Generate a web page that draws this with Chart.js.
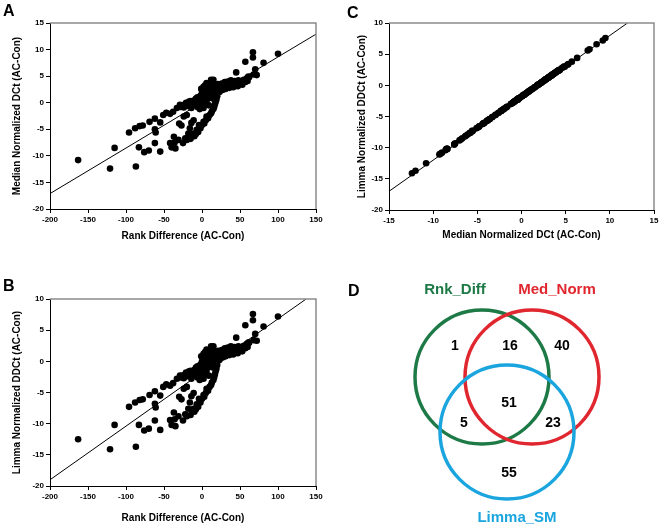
<!DOCTYPE html>
<html>
<head>
<meta charset="utf-8">
<script src="https://cdn.jsdelivr.net/npm/chart.js@4.4.1/dist/chart.umd.min.js"></script>
<style>
  body { margin: 0; background: #fff; }
  #wrap { position: relative; width: 661px; height: 531px; font-family: 'Liberation Sans', Arial, sans-serif; }
  canvas { position: absolute; }
  .panel { position: absolute; font-weight: bold; font-size: 16px; line-height: 16px; color: #000; }
</style>
</head>
<body>
<div id="wrap">
  <canvas id="chartA" width="330" height="270" style="left:0;top:0"></canvas>
  <canvas id="chartC" width="331" height="270" style="left:330px;top:0"></canvas>
  <canvas id="chartB" width="330" height="261" style="left:0;top:270px"></canvas>
  <canvas id="chartD" width="331" height="261" style="left:330px;top:270px"></canvas>
  <div class="panel" style="left:3px;top:3px">A</div>
  <div class="panel" style="left:347px;top:5px">C</div>
  <div class="panel" style="left:3px;top:278px">B</div>
  <div class="panel" style="left:348px;top:283px">D</div>
</div>
<script>
// one entry per gene: rank difference, median normalized DCt, limma normalized DDCt
const rankDiff = [
  -163, -121, -115, -96, -88, -87, -83, -82, -78, -76,
  -70, -69, -62, -62, -61, -62, -55, -55, -51, -47,
  -42, -42, -40, -38, -37, -36, -35, -33, -31, -30,
  -29, -27, -25, -24, -22, -20, -20, -18, -18, -16,
  -14, -14, -11, -11, -9, -7, -3, -3, 2, 6,
  6, 100, 67, 67, 57, 81, 45, 70, 72, 68,
  61, 59, 12, 15,
  -28, -26, -24, -22, -21, -19, -17, -16, -15, -13,
  -12, -10, -9, -8, -7, -6, -5, -4, -3, -2,
  -1, 0, 0, 1, 1, 2, 2, 3, 3, 4,
  4, 5, 5, 6, 6, 7, 8, 8, 9, 10,
  10, 11, 12, 13, 14, 15, 16, 17, 18, 19,
  20, 21, 22, 23, 24, 25, 26, 27, 28, 29,
  30, 31, 32, 33, 34, 35, 36, 37, 38, 39,
  40, 41, 42, 43, 44, 46, 47, 48, 50, 52,
  53, 55, 57, 59, 60, 62,
  20, 19, 18, 17, 16, 15, 13, 12, 10, 8,
  5, 3, 0, -2, -4, -5, -8, -10, -13, -15,
  2, 4, 6, 8, 9, 11, 13, 14, 16, 18,
  -1, -3, -6, 21, 23
];
const medNorm = [
  -10.8, -12.4, -8.5, -5.6, -4.8, -12.0, -8.4, -4.4, -4.3, -9.3,
  -9.0, -3.6, -3.0, -5.0, -5.6, -7.6, -9.2, -3.7, -2.3, -1.9,
  -2.1, -7.6, -8.4, -1.7, -6.4, -7.5, -8.6, -1.0, -7.0, -3.9,
  -0.4, -4.3, -7.6, -2.6, -6.7, -7.0, -2.3, -5.8, -0.1, -4.8,
  -3.8, -1.0, -5.8, -3.3, 0.5, -5.1, -4.4, 1.1, -3.6, -2.6,
  1.8, 9.2, 9.5, 8.5, 7.7, 7.5, 5.7, 6.3, 5.2, 5.3,
  4.9, 4.3, 4.3, 4.3,
  -0.8, -0.5, -0.9, -0.3, 0.0, -0.6, 0.2, -0.3, 0.3, 0.1,
  -0.4, 0.4, -0.2, 0.8, 0.2, 1.0, 0.5, -0.5, 0.2, 1.3,
  0.7, 1.8, -0.7, 2.5, 0.3, 1.2, 3.0, 2.0, -0.3, 1.5,
  3.3, 0.8, 2.6, 3.7, 0.3, 1.9, 2.8, 0.9, 1.5, 3.5,
  2.2, 1.0, 2.8, 1.8, 3.3, 2.3, 1.5, 3.0, 2.2, 1.8,
  2.8, 3.5, 2.3, 2.0, 3.0, 2.6, 3.6, 2.4, 3.1, 2.8,
  3.9, 2.6, 3.3, 3.0, 4.0, 3.3, 2.8, 3.6, 4.2, 3.2,
  3.7, 2.9, 3.5, 4.1, 3.3, 3.8, 3.1, 4.2, 3.6, 4.0,
  3.4, 4.3, 3.9, 4.6, 4.1, 4.8,
  1.2, 0.6, 0.2, -0.3, -0.8, -1.2, -1.6, -2.0, -2.3, -2.9,
  -3.3, -3.9, -4.2, -4.8, -4.2, -5.5, -5.9, -6.3, -6.1, -6.8,
  -1.0, 0.2, 2.2, 3.4, -0.5, 2.5, 3.8, 0.8, 2.7, 3.4,
  2.6, -1.2, -0.8, 2.0, 3.2
];
const limmaNorm = [
  -12.5, -14.1, -10.2, -7.3, -6.6, -13.7, -10.2, -6.2, -6.1, -11.1,
  -10.8, -5.4, -4.8, -6.8, -7.4, -9.5, -11.0, -5.5, -4.1, -3.7,
  -3.9, -9.4, -10.2, -3.5, -8.2, -9.3, -10.4, -2.8, -8.8, -5.7,
  -2.3, -6.1, -9.5, -4.4, -8.5, -8.8, -4.1, -7.6, -1.9, -6.6,
  -5.6, -2.8, -7.6, -5.1, -1.3, -6.9, -6.2, -0.7, -5.4, -4.4,
  0.0, 7.2, 7.6, 6.6, 5.8, 5.6, 3.8, 4.4, 3.3, 3.4,
  3.0, 2.5, 2.4, 2.4,
  -2.6, -2.3, -2.7, -2.1, -1.8, -2.4, -1.6, -2.1, -1.5, -1.7,
  -2.2, -1.4, -2.0, -1.0, -1.6, -0.8, -1.3, -2.3, -1.6, -0.5,
  -1.1, 0.0, -2.5, 0.7, -1.5, -0.6, 1.2, 0.2, -2.1, -0.3,
  1.5, -1.0, 0.8, 1.9, -1.5, 0.1, 1.0, -0.9, -0.3, 1.7,
  0.4, -0.8, 1.0, 0.0, 1.5, 0.5, -0.3, 1.2, 0.4, 0.0,
  1.0, 1.7, 0.5, 0.2, 1.2, 0.8, 1.8, 0.6, 1.3, 1.0,
  2.1, 0.8, 1.5, 1.2, 2.2, 1.5, 1.0, 1.8, 2.4, 1.4,
  1.9, 1.1, 1.7, 2.3, 1.5, 2.0, 1.3, 2.4, 1.8, 2.2,
  1.6, 2.5, 2.1, 2.8, 2.3, 3.0,
  -0.6, -1.2, -1.6, -2.1, -2.6, -3.0, -3.4, -3.8, -4.1, -4.7,
  -5.1, -5.7, -6.0, -6.6, -6.0, -7.3, -7.7, -8.1, -7.9, -8.6,
  -2.8, -1.6, 0.4, 1.6, -2.3, 0.7, 2.0, -1.0, 0.9, 1.6,
  0.8, -3.0, -2.6, 0.2, 1.4
];

// regression lines (end points)
const fitAX = [-200, 150], fitAY = [-17.1, 12.9];
const fitBX = [-200, 137], fitBY = [-19.0, 10.0];
const fitCX = [-15, 12], fitCY = [-17.0, 10.0];

// venn diagram
const vennSets = ['Rnk_Diff', 'Med_Norm', 'Limma_SM'];
const vennColors = ['#1d7a47', '#e0262e', '#1ba5df'];
const vennCounts = [1, 16, 40, 51, 5, 23, 55];

Chart.defaults.font.family = "'Liberation Sans', Arial, sans-serif";
Chart.defaults.color = '#000';

const framePlugin = {
  id: 'frame',
  afterDraw(chart) {
    const { ctx, chartArea: { left, right, top, bottom } } = chart;
    ctx.save();
    ctx.strokeStyle = '#8c8c8c';
    ctx.lineWidth = 1.5;
    ctx.beginPath();
    ctx.moveTo(left, top);
    ctx.lineTo(right, top);
    ctx.lineTo(right, bottom);
    ctx.stroke();
    ctx.restore();
  }
};

function axis(min, max, step, title, fit) {
  return {
    type: 'linear',
    min, max,
    ticks: { stepSize: step, color: '#000', font: { size: 8, weight: 'bold' }, padding: 2, maxRotation: 0 },
    grid: { drawOnChartArea: false, drawTicks: true, tickLength: 4, color: '#000' },
    border: { color: '#000', width: 1 },
    title: { display: true, text: title, color: '#000', font: { size: 10, weight: 'bold' }, padding: { top: 2, bottom: 4 } },
    afterFit: fit
  };
}

function scatterPanel(id, xs, ys, fitX, fitY, xr, yr, xTitle, yTitle, box) {
  const points = xs.map((x, i) => ({ x, y: ys[i] }));
  const fit = fitX.map((x, i) => ({ x, y: fitY[i] }));
  return new Chart(document.getElementById(id), {
    type: 'scatter',
    data: {
      datasets: [
        { data: points, pointRadius: 3.3, backgroundColor: '#000', borderWidth: 0, order: 0 },
        { data: fit, showLine: true, borderColor: '#000', borderWidth: 1, pointRadius: 0, order: 1 }
      ]
    },
    options: {
      responsive: false,
      animation: false,
      events: [],
      layout: { padding: box.pad, autoPadding: false },
      plugins: { legend: { display: false }, tooltip: { enabled: false } },
      scales: {
        x: axis(xr[0], xr[1], xr[2], xTitle, s => { s.height = box.xh; }),
        y: axis(yr[0], yr[1], yr[2], yTitle, s => { s.width = box.yw; })
      }
    },
    plugins: [framePlugin]
  });
}

scatterPanel('chartA', rankDiff, medNorm, fitAX, fitAY, [-200, 150, 50], [-20, 15, 5],
  'Rank Difference (AC-Con)', 'Median Normalized DCt (AC-Con)',
  { pad: { left: 9, right: 14, top: 23, bottom: 24 }, xh: 37, yw: 41 });

scatterPanel('chartC', medNorm, limmaNorm, fitCX, fitCY, [-15, 15, 5], [-20, 10, 5],
  'Median Normalized DCt (AC-Con)', 'Limma Normalized DDCt (AC-Con)',
  { pad: { left: 24, right: 7, top: 23, bottom: 25 }, xh: 35, yw: 35 });

scatterPanel('chartB', rankDiff, limmaNorm, fitBX, fitBY, [-200, 150, 50], [-20, 10, 5],
  'Rank Difference (AC-Con)', 'Limma Normalized DDCt (AC-Con)',
  { pad: { left: 9, right: 14, top: 29, bottom: 3 }, xh: 42, yw: 41 });

// venn: circle centres and label anchors in panel units
const circleX = [152, 202, 177], circleY = [107, 107, 162], circleR = 67;
const countX = [125, 180, 232, 179, 134, 223, 179];
const countY = [76, 76, 76, 133, 153, 153, 203];
const nameX = [125, 227, 187], nameY = [20, 20, 248];

const vennText = {
  id: 'vennText',
  afterDatasetsDraw(chart) {
    const { ctx, scales: { x, y } } = chart;
    ctx.save();
    ctx.textAlign = 'center';
    ctx.textBaseline = 'middle';
    ctx.font = "bold 14px 'Liberation Sans', Arial, sans-serif";
    ctx.fillStyle = '#000';
    vennCounts.forEach((c, i) => ctx.fillText(String(c), x.getPixelForValue(countX[i]), y.getPixelForValue(countY[i])));
    ctx.font = "bold 15px 'Liberation Sans', Arial, sans-serif";
    vennSets.forEach((s, i) => {
      ctx.fillStyle = vennColors[i];
      ctx.fillText(s, x.getPixelForValue(nameX[i]), y.getPixelForValue(nameY[i]));
    });
    ctx.restore();
  }
};

new Chart(document.getElementById('chartD'), {
  type: 'bubble',
  data: {
    datasets: [{
      data: circleX.map((cx, i) => ({ x: cx, y: circleY[i], r: circleR })),
      backgroundColor: 'rgba(0,0,0,0)',
      borderColor: vennColors,
      borderWidth: 3.5,
      clip: false
    }]
  },
  options: {
    responsive: false,
    animation: false,
    events: [],
    layout: { padding: 0, autoPadding: false },
    plugins: { legend: { display: false }, tooltip: { enabled: false } },
    scales: {
      x: { type: 'linear', min: 0, max: 331, display: false },
      y: { type: 'linear', min: 0, max: 261, reverse: true, display: false }
    }
  },
  plugins: [vennText]
});
</script>
</body>
</html>
